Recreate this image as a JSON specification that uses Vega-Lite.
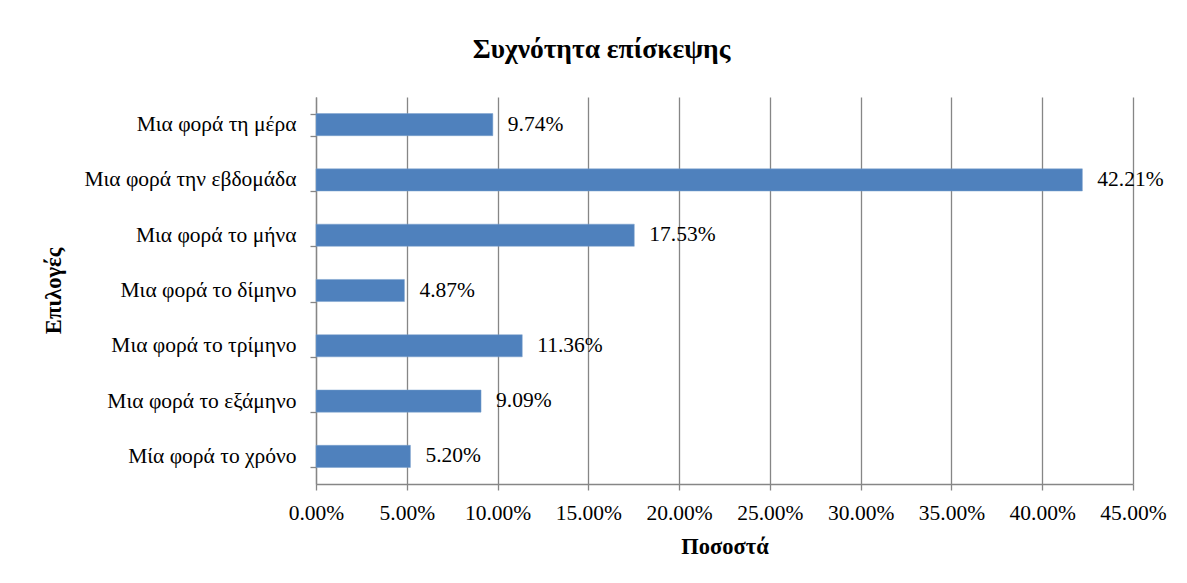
{
  "$schema": "https://vega.github.io/schema/vega-lite/v6.json",
  "autosize": {"type": "none"},
  "padding": {"left": 316, "top": 97, "right": 54, "bottom": 99},
  "width": 817,
  "height": 387,
  "background": "white",
  "title": {
    "text": "Συχνότητα επίσκεψης",
    "font": "Liberation Serif",
    "fontSize": 27.5,
    "fontWeight": "bold",
    "color": "#000000",
    "anchor": "middle",
    "baseline": "alphabetic",
    "dx": -123,
    "offset": 1
  },
  "data": {
    "values": [
      {"option": "Μια φορά τη μέρα", "value": 0.0974},
      {"option": "Μια φορά την εβδομάδα", "value": 0.4221},
      {"option": "Μια φορά το μήνα", "value": 0.1753},
      {"option": "Μια φορά το δίμηνο", "value": 0.0487},
      {"option": "Μια φορά το τρίμηνο", "value": 0.1136},
      {"option": "Μια φορά το εξάμηνο", "value": 0.0909},
      {"option": "Μία φορά το χρόνο", "value": 0.052}
    ]
  },
  "encoding": {
    "y": {
      "field": "option",
      "type": "nominal",
      "sort": null,
      "scale": {"paddingInner": 0.6, "paddingOuter": 0.3},
      "axis": {
        "title": "Επιλογές",
        "titleFont": "Liberation Serif",
        "titleFontSize": 22.5,
        "titleFontWeight": "bold",
        "titleColor": "#000000",
        "titleX": -251,
        "labelFont": "Liberation Serif",
        "labelFontSize": 21.5,
        "labelColor": "#000000",
        "labelPadding": 14,
        "labelLimit": 320,
        "tickBand": "extent",
        "tickSize": 6,
        "tickColor": "#868686",
        "tickWidth": 1.3,
        "domainColor": "#868686",
        "domainWidth": 1.3,
        "grid": false
      }
    },
    "x": {
      "field": "value",
      "type": "quantitative",
      "scale": {"domain": [0, 0.45], "nice": false},
      "axis": {
        "title": "Ποσοστά",
        "titleFont": "Liberation Serif",
        "titleFontSize": 22.5,
        "titleFontWeight": "bold",
        "titleColor": "#000000",
        "titleBaseline": "alphabetic",
        "titleY": 69,
        "format": ".2%",
        "values": [0, 0.05, 0.1, 0.15, 0.2, 0.25, 0.3, 0.35, 0.4, 0.45],
        "labelFont": "Liberation Serif",
        "labelFontSize": 21.5,
        "labelColor": "#000000",
        "labelBaseline": "alphabetic",
        "labelPadding": 29,
        "labelFlush": false,
        "tickSize": 6,
        "tickColor": "#868686",
        "tickWidth": 1.3,
        "domainColor": "#868686",
        "domainWidth": 1.3,
        "grid": true,
        "gridColor": "#868686",
        "gridWidth": 1.3
      }
    }
  },
  "layer": [
    {
      "mark": {"type": "bar", "color": "#4F81BD", "stroke": "#7BA0CD", "strokeWidth": 0.5}
    },
    {
      "mark": {"type": "text", "align": "left", "baseline": "middle", "dx": 15, "font": "Liberation Serif", "fontSize": 21.5, "color": "#000000"},
      "encoding": {
        "text": {"field": "value", "type": "quantitative", "format": ".2%"}
      }
    }
  ],
  "config": {
    "view": {"stroke": null}
  }
}
